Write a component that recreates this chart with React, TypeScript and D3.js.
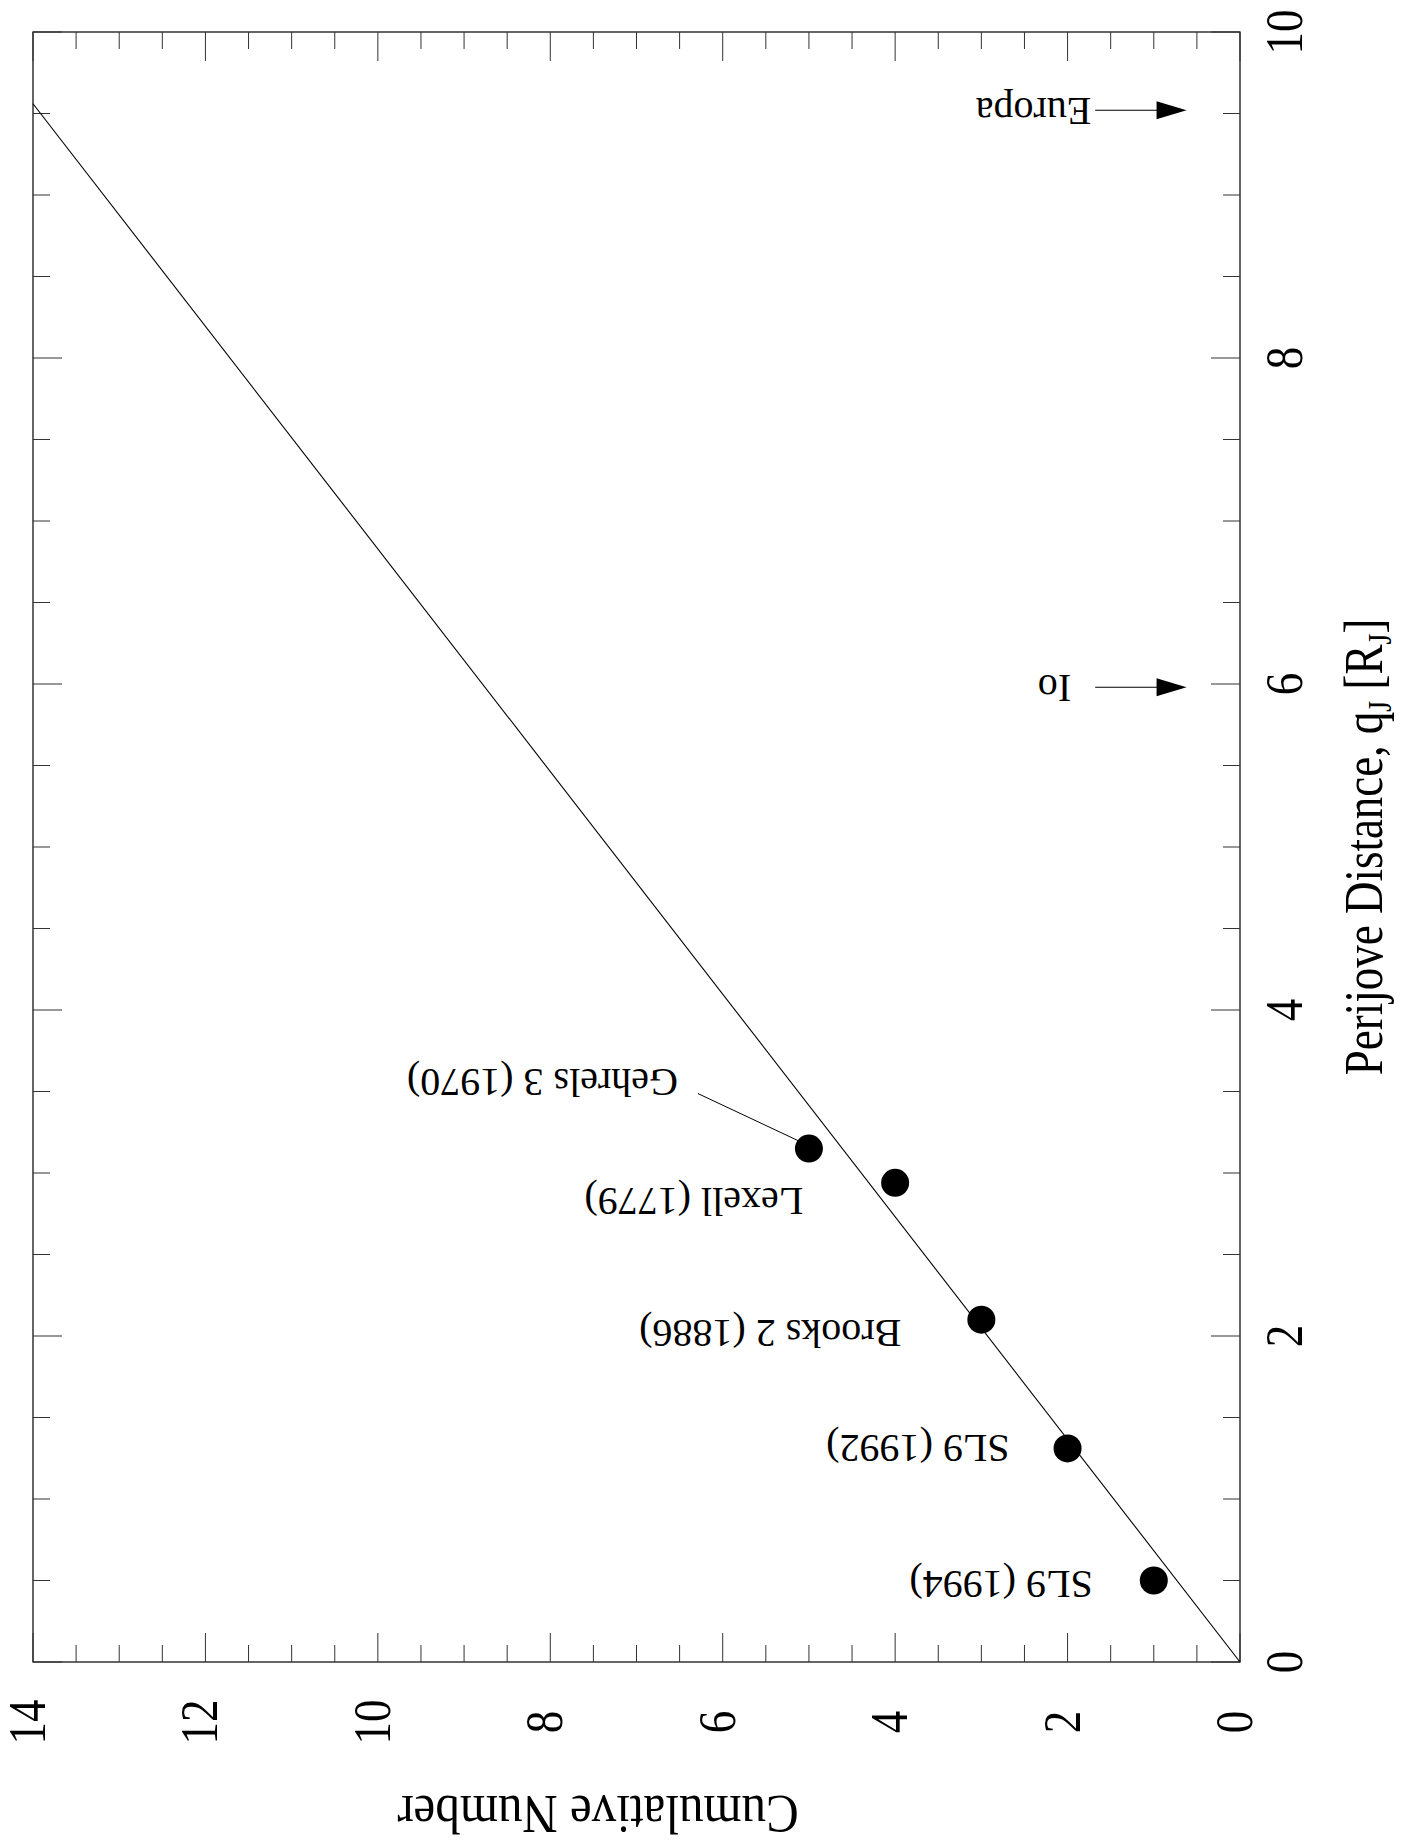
import React from "react";
import * as d3 from "d3";

// ---- data ----
const cometNames = ["SL9 (1994)", "SL9 (1992)", "Brooks 2 (1886)", "Lexell (1779)", "Gehrels 3 (1970)"];
const perijove = [0.5, 1.31, 2.1, 2.94, 3.15]; // q_J [R_J]
const cumulative = [1, 2, 3, 4, 5];
const fitQ = [0, 9.56];
const fitN = [0, 14];
const moonNames = ["Io", "Europa"];
const moonQ = [5.98, 9.52];
const perijoveTicks = [0, 2, 4, 6, 8, 10];
const cumulativeTicks = [0, 2, 4, 6, 8, 10, 12, 14];

// ---- layout ----
const W = 1407, H = 1842;
const LEFT = 33, RIGHT = 1240, TOP = 32, BOTTOM = 1662;
const labelOffsets = [
  [-61, -10],
  [-58, -13],
  [-80, 0],
  [-92, 5],
  [-131, -80],
];
const FONT = "'Liberation Serif', 'Times New Roman', serif";

export default function App() {
  const q = d3.scaleLinear().domain([0, 10]).range([BOTTOM, TOP]);
  const n = d3.scaleLinear().domain([0, 14]).range([RIGHT, LEFT]);

  const qMinor = d3.range(0, 10.001, 0.5);
  const nMinor = d3.range(0, 14.001, 0.5);
  const MAJ = 29, MIN = 17;
  const isMajor = (v: number) => Math.abs(v / 2 - Math.round(v / 2)) < 1e-6;

  const fitPts = fitQ.map((v, i) => [v, fitN[i]] as [number, number]);
  const line = d3.line<[number, number]>().x(d => n(d[1])).y(d => q(d[0]));

  const tickStroke = "#333";

  return (
    <svg width={W} height={H} style={{ position: "absolute", left: 0, top: 0, background: "#fff" }}
      fontFamily={FONT}>
      <rect x={0} y={0} width={W} height={H} fill="#fff" />
      {/* frame */}
      <rect x={LEFT} y={TOP} width={RIGHT - LEFT} height={BOTTOM - TOP} fill="none" stroke="#000" strokeWidth={1.2} />
      {/* perijove ticks (right & left edges) */}
      {qMinor.map((v, i) => {
        const len = isMajor(v) ? MAJ : MIN;
        const y = q(v);
        return (
          <g key={"qt" + i} stroke={tickStroke} strokeWidth={1}>
            <line x1={RIGHT} x2={RIGHT - len} y1={y} y2={y} />
            <line x1={LEFT} x2={LEFT + len} y1={y} y2={y} />
          </g>
        );
      })}
      {/* cumulative ticks (bottom & top edges) */}
      {nMinor.map((v, i) => {
        const len = isMajor(v) ? MAJ : MIN;
        const x = n(v);
        return (
          <g key={"nt" + i} stroke={tickStroke} strokeWidth={1}>
            <line x1={x} x2={x} y1={BOTTOM} y2={BOTTOM - len} />
            <line x1={x} x2={x} y1={TOP} y2={TOP + len} />
          </g>
        );
      })}
      {/* right tick labels */}
      {perijoveTicks.map(v => (
        <text key={"ql" + v} transform={`translate(${RIGHT + 62},${q(v)}) rotate(-90) scale(1,1.17)`}
          textAnchor="middle" fontSize={45} fill="#000">{v}</text>
      ))}
      {/* bottom tick labels */}
      {cumulativeTicks.map(v => (
        <text key={"nl" + v} transform={`translate(${n(v) + 12},${BOTTOM + 60}) rotate(-90) scale(1,1.17)`}
          textAnchor="middle" fontSize={45} fill="#000">{v}</text>
      ))}
      {/* axis titles */}
      <text transform={`translate(${RIGHT + 142},${(TOP + BOTTOM) / 2}) rotate(-90) scale(1,1.24)`}
        textAnchor="middle" fontSize={45} fill="#000">
        Perijove Distance, q<tspan fontSize={28} dy={7}>J</tspan><tspan dy={-7}> [R</tspan><tspan fontSize={28} dy={7}>J</tspan><tspan dy={-7}>]</tspan>
      </text>
      <text transform={`translate(598,1796) rotate(180) scale(1,1.14)`}
        textAnchor="middle" fontSize={49} fill="#000">Cumulative Number</text>

      {/* fit line */}
      <path d={line(fitPts) || ""} fill="none" stroke="#000" strokeWidth={1.1} />

      {/* Gehrels leader line */}
      <line x1={n(cumulative[4]) - 111} y1={q(perijove[4]) - 55} x2={n(cumulative[4]) - 11} y2={q(perijove[4]) - 8}
        stroke="#000" strokeWidth={1} />

      {/* points */}
      {perijove.map((v, i) => (
        <circle key={"p" + i} cx={n(cumulative[i])} cy={q(v)} r={14} fill="#000" />
      ))}
      {/* labels */}
      {cometNames.map((name, i) => (
        <text key={"l" + i}
          transform={`translate(${n(cumulative[i]) + labelOffsets[i][0]},${q(perijove[i]) + labelOffsets[i][1]}) rotate(180)`}
          textAnchor="start" fontSize={40} fill="#000">{name}</text>
      ))}

      {/* moon arrows */}
      {moonQ.map((v, i) => {
        const y = q(v);
        const tip = n(0.62);
        const tail = n(1.68);
        return (
          <g key={"m" + i}>
            <line x1={tail} x2={tip - 20} y1={y} y2={y} stroke="#000" strokeWidth={1.2} />
            <path d={`M${tip},${y} L${tip - 30},${y - 9} L${tip - 30},${y + 9} Z`} fill="#000" />
            <text transform={`translate(${tail - (i === 0 ? 24 : 4)},${y - 12}) rotate(180)`}
              textAnchor="start" fontSize={40} fill="#000">{moonNames[i]}</text>
          </g>
        );
      })}
    </svg>
  );
}
